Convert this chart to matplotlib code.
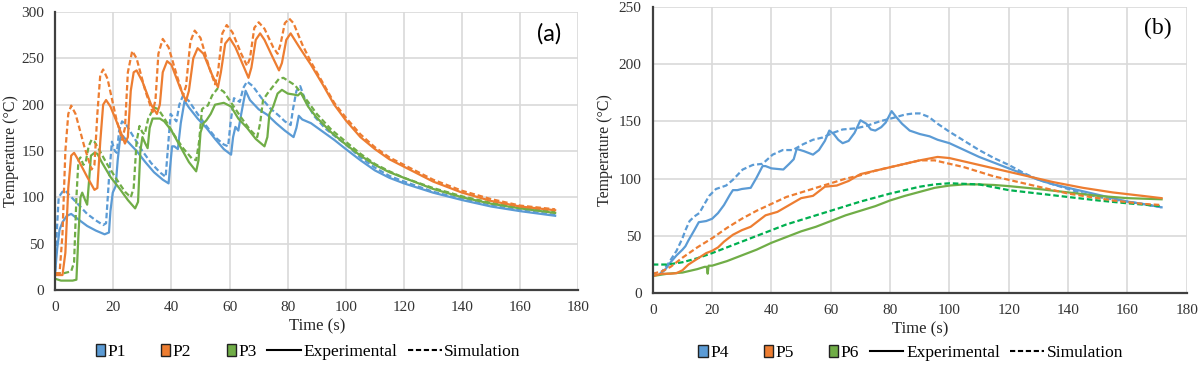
import matplotlib
matplotlib.use("Agg")
import matplotlib.pyplot as plt
import matplotlib.patches as mpatches
from matplotlib.lines import Line2D
from matplotlib.legend_handler import HandlerPatch

plt.rcParams['font.family'] = ['Liberation Serif', 'DejaVu Serif']

# ---------------- panel (a) data ----------------
p1_exp_t = [0, 0.7, 1.5, 2.5, 4, 5.5, 8, 11, 14, 17, 18.5, 19, 19.8, 20.8, 21.5, 22.3, 23, 25, 28, 31, 34, 37, 39,
            39.6, 40.2, 41, 42.2, 43.2, 44.5, 46, 49, 52, 55, 58, 60.5, 61.2, 62, 63, 64, 65.5, 67, 70, 73, 76, 79,
            82, 83, 83.8, 85, 88, 92, 96, 100, 105, 110, 115, 120, 130, 140, 150, 160, 172]
p1_exp_T = [20, 45, 65, 73, 80, 82, 76, 69, 64, 60, 62, 85, 105, 112, 140, 163, 167, 160, 150, 138, 127, 119, 115,
            135, 155, 155, 152, 180, 204, 197, 185, 175, 163, 152, 146, 165, 176, 172, 190, 215, 205, 195, 189, 180, 172,
            165, 175, 188, 184, 180, 171, 162, 152, 140, 129, 121, 115, 105, 97, 90, 85, 80]
p1_sim_t = [0, 0.5, 1.2, 2.5, 3.5, 5, 8, 11, 14, 16.5, 17.5, 18.5, 19.5, 20.5, 21.2, 22, 23, 24.5, 27, 30, 33, 36, 38,
            38.7, 39.7, 40.7, 41.7, 42.7, 44, 46, 49, 52, 55, 58, 59.5, 60.3, 61.5, 62.5, 63.5, 64.7, 66, 68, 71, 74,
            77, 79, 81, 81.8, 83, 84.3, 86, 89, 93, 97, 100, 105, 110, 115, 120, 130, 140, 150, 160, 172]
p1_sim_T = [20, 60, 100, 106, 107, 102, 92, 82, 75, 70, 72, 120, 160, 150, 148, 172, 182, 178, 165, 150, 137, 127, 122,
            150, 190, 186, 182, 200, 210, 204, 190, 177, 165, 157, 155, 180, 207, 205, 203, 218, 225, 220, 207, 196,
            188, 182, 178, 195, 215, 220, 205, 188, 174, 164, 157, 143, 132, 123, 117, 106, 98, 91, 86, 81]

p2_exp_t = [0, 2.5, 3.5, 4.5, 5.5, 6.5, 8, 11, 13.5, 14.5, 15.5, 16.5, 17.5, 19, 22, 24, 25, 26, 27, 28, 30, 33, 35,
            36, 37, 38.5, 40, 43, 45, 46, 47.5, 49, 51, 54, 56, 57, 58.5, 60, 62, 65, 66.5, 67.5, 69, 70.5, 72, 75, 77,
            78, 79.5, 81, 84, 88, 92, 96, 100, 105, 110, 115, 120, 130, 140, 150, 160, 172]
p2_exp_T = [16, 16, 40, 110, 145, 148, 140, 122, 108, 110, 160, 200, 205, 198, 175, 158, 165, 215, 235, 237, 225, 200,
            190, 200, 235, 247, 243, 218, 204, 215, 250, 261, 255, 232, 219, 235, 266, 272, 262, 240, 229, 240, 270,
            277, 270, 250, 237, 245, 270, 277, 262, 243, 222, 200, 183, 165, 152, 141, 133, 117, 105, 96, 90, 86]
p2_sim_t = [0, 1.5, 2.5, 3.5, 4.5, 5.5, 7, 10, 12.5, 13.5, 14.5, 15.5, 16.5, 18, 21, 23, 24, 25, 26.5, 28, 31, 33.5,
            34.5, 35.5, 37, 39, 42, 44, 45, 46.5, 48, 50, 53, 55, 56, 57.5, 59, 61, 64, 66, 67, 68.5, 70, 72, 75, 76.5,
            77.5, 79, 80.5, 82, 85, 88, 92, 96, 100, 105, 110, 115, 120, 130, 140, 150, 160, 172]
p2_sim_T = [18, 18, 60, 150, 190, 199, 190, 155, 130, 135, 190, 232, 238, 228, 185, 162, 175, 235, 258, 250, 215, 192,
            205, 255, 271, 262, 230, 210, 220, 268, 280, 272, 240, 222, 235, 277, 286, 278, 255, 242, 250, 283, 289,
            282, 262, 255, 265, 288, 293, 288, 265, 246, 224, 202, 186, 168, 154, 143, 135, 119, 107, 98, 91, 87]

p3_exp_t = [0, 2, 4, 6, 7.3, 8, 8.7, 9.3, 10.3, 11, 11.7, 12.3, 13.5, 14.5, 16, 19, 22, 25, 27.5, 28.5, 29.3, 30, 31,
            31.8, 32.5, 33.5, 36, 37.5, 40, 43, 46, 48.5, 49.3, 50, 51, 52, 53.5, 55, 58, 60.5, 63, 66, 69, 72, 73,
            73.7, 75, 76.5, 78, 80, 82, 83.5, 84.5, 87, 90, 95, 100, 105, 110, 115, 120, 130, 140, 150, 160, 172]
p3_exp_T = [12, 10, 10, 10, 11, 60, 100, 105, 97, 92, 120, 145, 148, 147, 138, 122, 110, 97, 88, 95, 150, 165, 158,
            153, 175, 185, 185, 182, 172, 155, 138, 128, 140, 170, 180, 183, 190, 200, 202, 198, 185, 175, 163, 155,
            165, 190, 198, 212, 216, 212, 211, 210, 213, 198, 186, 170, 157, 145, 135, 127, 121, 109, 100, 93, 88, 83]
p3_sim_t = [0, 3, 5.5, 6.5, 7.3, 8, 8.7, 9.7, 10.5, 11.5, 12.5, 13.5, 15, 18, 21, 24, 26, 27, 28, 29, 30, 30.8, 32,
            34, 35.5, 38, 41, 44, 47, 48.5, 49.5, 50.5, 51.5, 52.5, 54, 56, 58, 61, 64, 67, 69.5, 70.5, 71.5, 73, 75,
            77, 78.5, 80.5, 82.5, 84, 87, 90, 95, 100, 105, 110, 115, 120, 130, 140, 150, 160, 172]
p3_sim_T = [18, 18, 20, 30, 100, 140, 143, 135, 138, 155, 162, 160, 152, 135, 120, 106, 100, 110, 160, 177, 170, 168,
            185, 197, 195, 183, 167, 153, 142, 140, 160, 195, 198, 199, 210, 218, 214, 200, 186, 173, 165, 180, 205,
            212, 220, 228, 229, 225, 221, 215, 203, 190, 173, 160, 147, 136, 128, 121, 110, 101, 94, 89, 84]

# ---------------- panel (b) data ----------------
p4_exp_t = [2.5, 4, 6, 8, 10, 11, 12, 14, 15.5, 18, 20, 22, 24, 26, 27, 28.5, 30, 33, 35, 37, 38, 40, 44, 46, 47.5,
            48.5, 51, 54, 56, 58, 59.5, 61, 62.5, 64, 66, 68, 70, 72, 73.5, 75, 77, 78.5, 80.5, 82, 84, 86.6, 90,
            93.3, 96, 100, 105, 110, 115, 120, 125, 130, 135, 140, 145, 150, 155, 160, 165, 171.5]
p4_exp_T = [17, 20, 27, 33, 38, 41, 46, 55, 62, 63, 65, 70, 77, 86, 90, 90, 91, 92, 101, 111, 111, 109, 108, 113, 117,
            126, 124, 121, 125, 133, 142, 139, 134, 131, 133, 140, 151, 148, 143, 142, 145, 149, 159, 154, 148, 142,
            139, 137, 134, 131, 125, 119, 114, 109, 104, 99, 95, 92, 89, 86, 83, 80, 78, 75]
p4_sim_t = [2.5, 5, 8, 10, 11, 12.4, 14, 15.7, 17, 19, 21.3, 24.7, 27, 30.3, 33.7, 37, 40.4, 43.8, 47.2, 50.6, 54,
            57.3, 60.7, 64, 68.5, 71.9, 76.4, 80.9, 85, 88, 90, 93, 96, 100, 105, 110, 115, 120, 125, 130, 135, 140,
            145, 150, 155, 160, 165, 171.5]
p4_sim_T = [17, 25, 37, 48, 55, 63, 67, 70, 76, 85, 91, 94, 99, 108, 112, 113, 121, 125, 125, 130, 134, 136, 140, 143,
            144, 146, 150, 153, 156, 157, 157, 154, 148, 141, 133, 125, 118, 112, 105, 99, 95, 91, 87, 84, 82, 80, 78, 75]

p5_exp_t = [0, 3, 6, 8, 10, 12, 15, 18, 20, 22, 24, 27, 30, 33, 35, 38, 42, 46, 50, 54, 56, 58, 62, 66, 70, 75, 80,
            85, 90, 96, 100, 105, 110, 115, 120, 125, 130, 135, 140, 145, 150, 155, 160, 165, 171.5]
p5_exp_T = [15, 17, 17, 17.5, 20, 25, 30, 35, 37, 40, 45, 51, 55, 58, 62, 68, 71, 77, 83, 85, 89, 93, 94, 98, 104,
            107, 110, 113, 116, 119, 118, 115, 112, 109, 106, 103, 100, 97, 94.5, 92, 90, 88, 86.5, 85, 83]
p5_sim_t = [0, 3, 6, 10, 15, 20, 25, 30, 35, 40, 45, 50, 55, 60, 65, 70, 75, 80, 85, 90, 95, 100, 105, 110, 115, 120,
            125, 130, 135, 140, 145, 150, 155, 160, 165, 171.5]
p5_sim_T = [17, 19, 23, 31, 40, 48, 57, 65, 72, 78, 84, 88, 92, 96, 100, 103, 107, 110, 113, 116, 116, 113, 110, 106,
            102, 99, 96, 93, 90, 87, 85, 83, 81, 79.5, 78, 77]

p6_exp_t = [0, 5, 10, 15, 17.5, 18.2, 18.5, 18.8, 20, 25, 30, 35, 40, 45, 50, 55, 60, 65, 70, 75, 80, 85, 90, 95, 100,
            105, 110, 115, 120, 130, 140, 150, 160, 171.5]
p6_exp_T = [15, 17, 18, 21, 23, 23, 17, 24, 24, 28, 33, 38, 44, 49, 54, 58, 63, 68, 72, 76, 81, 85, 88.5, 92, 94, 95,
            95, 94.5, 93.5, 91, 88, 85, 83, 82]
p6_sim_t = [0, 5, 10, 15, 20, 25, 30, 35, 40, 45, 50, 55, 60, 65, 70, 75, 80, 85, 90, 95, 100, 105, 110, 115, 120, 130,
            140, 150, 160, 171.5]
p6_sim_T = [25, 25, 27, 30.5, 35, 40, 45, 50, 55, 60, 64, 68, 72, 76, 80, 83.5, 87, 90, 93, 95, 96, 95.5, 95, 92.5,
            90, 87, 84, 81, 78.5, 76]

blue = '#5B9BD5'
orange = '#ED7D31'
green = '#70AD47'
green_b = '#00B050'


def right_square(legend, orig_handle, xdescent, ydescent, width, height, fontsize):
    # small box sitting at the right end of the handle box (Excel style)
    w = height * 0.75
    h = height * 1.0
    return mpatches.Rectangle((-xdescent + width - w, -ydescent + (height - h) / 2), w, h)


def style_axes(ax, ymax, names):
    ax.set_xlim(0, 180)
    ax.set_ylim(0, ymax)
    ax.set_xticks(range(0, 181, 20))
    ax.set_yticks(range(0, ymax + 1, 50))
    ax.grid(True, color='#D9D9D9', linewidth=1.2)
    ax.set_axisbelow(True)
    for s in ['top', 'right']:
        ax.spines[s].set_visible(False)
    for s in ['left', 'bottom']:
        ax.spines[s].set_color('#404040')
        ax.spines[s].set_linewidth(1.6)
    ax.tick_params(length=0, labelsize=11, pad=8, labelcolor='#333333')
    ax.set_xlabel('Time (s)', fontsize=12, color='#262626')
    ax.set_ylabel('Temperature (°C)', fontsize=11.5, color='#262626')

    handles = [mpatches.Patch(facecolor=c, edgecolor='#222222', linewidth=1.0) for c in [blue, orange, green]]
    handles += [Line2D([], [], color='black', lw=1.5),
                Line2D([], [], color='black', lw=1.5, linestyle=(0, (2.5, 1.3)))]
    labels = names + ['Experimental', 'Simulation']
    return handles, labels


fig = plt.figure(figsize=(12, 3.66), dpi=100)
ax1 = fig.add_axes([0.046, 0.208, 0.436, 0.759])
ax2 = fig.add_axes([0.544, 0.199, 0.445, 0.782])

lw = 1.6
dash = (0, (2.5, 1.3))

# panel (a)
ax1.plot(p1_exp_t, p1_exp_T, color=blue, lw=lw)
ax1.plot(p1_sim_t, p1_sim_T, color=blue, lw=lw, linestyle=dash)
ax1.plot(p3_exp_t, p3_exp_T, color=green, lw=lw)
ax1.plot(p3_sim_t, p3_sim_T, color=green, lw=lw, linestyle=dash)
ax1.plot(p2_exp_t, p2_exp_T, color=orange, lw=lw)
ax1.plot(p2_sim_t, p2_sim_T, color=orange, lw=lw, linestyle=dash)

# panel (b)
ax2.plot(p4_exp_t, p4_exp_T, color=blue, lw=lw)
ax2.plot(p4_sim_t, p4_sim_T, color=blue, lw=lw, linestyle=dash)
ax2.plot(p6_exp_t, p6_exp_T, color=green, lw=lw)
ax2.plot(p6_sim_t, p6_sim_T, color=green_b, lw=lw, linestyle=dash)
ax2.plot(p5_exp_t, p5_exp_T, color=orange, lw=lw)
ax2.plot(p5_sim_t, p5_sim_T, color=orange, lw=lw, linestyle=dash)

h1, l1 = style_axes(ax1, 300, ['P1', 'P2', 'P3'])
h2, l2 = style_axes(ax2, 250, ['P4', 'P5', 'P6'])

ax1.xaxis.set_label_coords(0.5, -0.104)
ax2.xaxis.set_label_coords(0.5, -0.098)
ax1.yaxis.set_label_coords(-0.069, 0.5)
ax2.yaxis.set_label_coords(-0.075, 0.5)

hmap = {mpatches.Patch: HandlerPatch(patch_func=right_square)}
for ax, h, l, xx, yy in [(ax1, h1, l1, 0.46, -0.225), (ax2, h2, l2, 0.46, -0.208)]:
    ax.legend(h, l, loc='center', bbox_to_anchor=(xx, yy), ncol=5, frameon=False,
              fontsize=12.5, handlelength=1.95, handletextpad=0.15, columnspacing=0.6,
              handler_map=hmap)

ax1.text(0.945, 0.92, '(a)', transform=ax1.transAxes, fontsize=17, ha='center', va='center',
         family=['Lato', 'DejaVu Sans'])
ax2.text(0.945, 0.925, '(b)', transform=ax2.transAxes, fontsize=17, ha='center', va='center')

fig.savefig('out.png', dpi=100)
